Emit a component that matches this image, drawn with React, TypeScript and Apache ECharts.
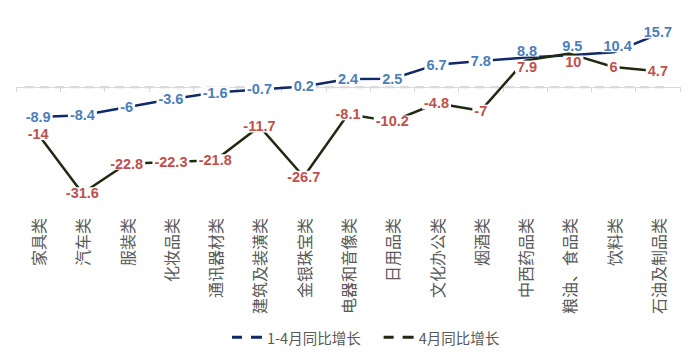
import React, { useEffect, useRef } from "react";
import * as echarts from "echarts";

const categories = [
  "家具类", "汽车类", "服装类", "化妆品类", "通讯器材类", "建筑及装潢类", "金银珠宝类",
  "电器和音像类", "日用品类", "文化办公类", "烟酒类", "中西药品类", "粮油、食品类", "饮料类", "石油及制品类",
];
const ytdGrowth = [-8.9, -8.4, -6, -3.6, -1.6, -0.7, 0.2, 2.4, 2.5, 6.7, 7.8, 8.8, 9.5, 10.4, 15.7];
const aprGrowth = [-14, -31.6, -22.8, -22.3, -21.8, -11.7, -26.7, -8.1, -10.2, -4.8, -7, 7.9, 10, 6, 4.7];
const seriesNames = ["1-4月同比增长", "4月同比增长"];

// manual label nudges (as in the original, where a few labels were dragged)
const ytdLabelOffsets: Record<number, number[]> = { 11: [2, -7], 12: [3, -9], 13: [4, -6], 14: [0, -2] };
const aprLabelOffsets: Record<number, number[]> = { 11: [2, 6], 12: [4, 8] };

const dashIcon = "path://M0,0H10V3H0Z M19,0H30V3H19Z";

function withOffsets(values: number[], offsets: Record<number, number[]>) {
  return values.map((v, i) =>
    offsets[i] ? { value: v, label: { offset: offsets[i] } } : { value: v }
  );
}

export default function App() {
  const ref = useRef<HTMLDivElement>(null);
  useEffect(() => {
    const chart = echarts.init(ref.current!, undefined, { renderer: "svg" });
    const labelBase = {
      show: true,
      position: "inside" as const,
      fontFamily: "Liberation Sans, Arial, sans-serif",
      fontWeight: "bold" as const,
      fontSize: 14.5,
      lineHeight: 12,
      backgroundColor: "#ffffff",
      padding: [0, 2, 0, 2],
    };
    chart.setOption({
      animation: false,
      grid: { left: 8, right: 5, top: 12, bottom: 146, containLabel: false },
      legend: {
        top: 322,
        left: 224,
        padding: 0,
        itemWidth: 30,
        itemHeight: 3,
        itemGap: 23,
        textStyle: { fontSize: 14.5, lineHeight: 14, color: "#595959", fontFamily: "Noto Sans CJK SC" },
        data: [
          { name: seriesNames[0], icon: dashIcon, itemStyle: { color: "#0F2A66" } },
          { name: seriesNames[1], icon: dashIcon, itemStyle: { color: "#1F2A10" } },
        ],
      },
      xAxis: {
        type: "category",
        data: categories,
        boundaryGap: true,
        axisLine: { lineStyle: { color: "#d9d9d9", width: 1 } },
        axisTick: { show: true, length: 5, lineStyle: { color: "#d9d9d9" } },
        axisLabel: {
          rotate: 90,
          interval: 0,
          margin: 10,
          fontSize: 16,
          color: "#595959",
          fontFamily: "Noto Sans CJK SC",
        },
      },
      yAxis: {
        type: "value",
        min: -36,
        max: 20,
        show: false,
        splitLine: { show: false },
      },
      series: [
        {
          name: seriesNames[0],
          type: "line",
          data: withOffsets(ytdGrowth, ytdLabelOffsets),
          symbol: "circle",
          symbolSize: 0.01,
          lineStyle: { color: "#0F2A66", width: 2.5 },
          itemStyle: { color: "#0F2A66" },
          label: { ...labelBase, color: "#4A7EBB" },
        },
        {
          name: seriesNames[1],
          type: "line",
          data: withOffsets(aprGrowth, aprLabelOffsets),
          symbol: "circle",
          symbolSize: 0.01,
          lineStyle: { color: "#1F2A10", width: 2.5 },
          itemStyle: { color: "#1F2A10" },
          label: { ...labelBase, color: "#C0504D" },
        },
      ],
    });
    const y0 = chart.convertToPixel({ yAxisIndex: 0 }, 0) as number;
    chart.setOption({
      graphic: [
        {
          type: "line",
          z: 0,
          silent: true,
          shape: { x1: 17, y1: y0, x2: 660, y2: y0 },
          style: { stroke: "#d0d0d0", lineWidth: 2, lineDash: [9, 6] },
        },
      ],
    });
    return () => chart.dispose();
  }, []);
  return <div ref={ref} style={{ width: 677, height: 346, marginBottom: -8 }} />;
}
